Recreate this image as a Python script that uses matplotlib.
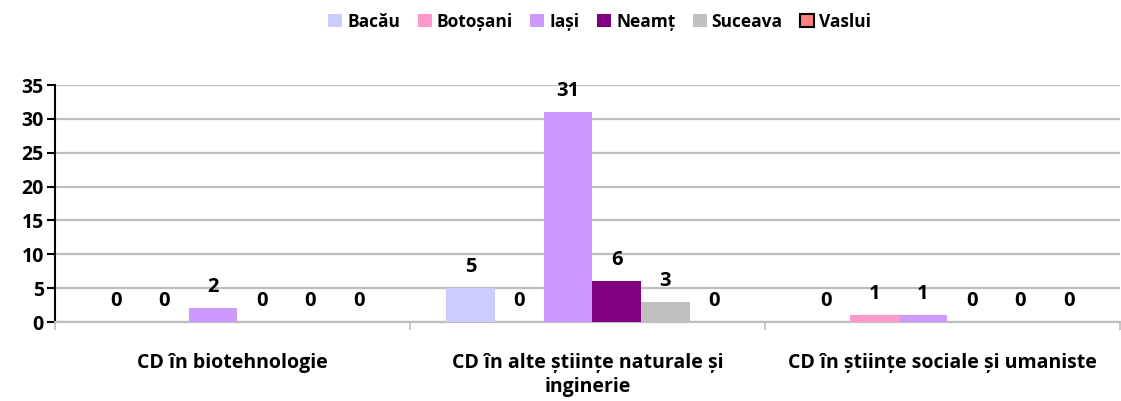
import matplotlib.pyplot as plt
import numpy as np
from matplotlib.patches import Patch

plt.rcParams["font.family"] = ["Open Sans", "DejaVu Sans"]
plt.rcParams["font.weight"] = "bold"

# Data
categories = ["CD în biotehnologie",
              "CD în alte științe naturale și\ninginerie",
              "CD în științe sociale și umaniste"]
counties = ["Bacău", "Botoșani", "Iași", "Neamț", "Suceava", "Vaslui"]
bacau = [0, 5, 0]
botosani = [0, 0, 1]
iasi = [2, 31, 1]
neamt = [0, 6, 0]
suceava = [0, 3, 0]
vaslui = [0, 0, 0]

series = [bacau, botosani, iasi, neamt, suceava, vaslui]
colors = ["#CCCCFF", "#FF99CC", "#CC99FF", "#800080", "#C0C0C0", "#FF8080"]

fig = plt.figure(figsize=(11.21, 4.01), dpi=100)
ax = fig.add_axes([0.049, 0.197, 0.95, 0.591])

x = np.arange(len(categories))
width = 0.137
for i, (vals, col) in enumerate(zip(series, colors)):
    pos = x + (i - 2.5) * width + 0.014
    ax.bar(pos, vals, width, color=col, zorder=3)
    for px, v in zip(pos, vals):
        ax.annotate(str(v), (px, v), textcoords="offset points", xytext=(0, 8),
                    ha="center", va="bottom", fontsize=14.5, fontweight="bold")

ax.set_ylim(0, 35)
ax.set_xlim(-0.5, 2.5)
ax.set_yticks(range(0, 36, 5))
ax.yaxis.grid(True, color="#BFBFBF", linewidth=1.6, zorder=0)
ax.set_axisbelow(True)

ax.set_xticks(x)
ax.set_xticklabels(categories, fontsize=14, fontweight="bold", linespacing=1.3)
ax.tick_params(axis="x", length=0, pad=22)
ax.set_xticks([-0.5, 0.5, 1.5, 2.5], minor=True)
ax.tick_params(axis="x", which="minor", length=6, color="#BFBFBF", width=1.2)
ax.tick_params(axis="y", length=6, width=1.5, color="black", labelsize=14, pad=2)
for lbl in ax.get_yticklabels():
    lbl.set_fontweight("bold")

for s in ["top", "right"]:
    ax.spines[s].set_visible(False)
ax.spines["left"].set_color("black")
ax.spines["left"].set_linewidth(1.5)
ax.spines["bottom"].set_color("#BFBFBF")
ax.spines["bottom"].set_linewidth(1.6)

handles = [Patch(facecolor=c, edgecolor="black" if n == "Vaslui" else c,
                 linewidth=1.5 if n == "Vaslui" else 0)
           for n, c in zip(counties, colors)]
fig.legend(handles, counties, loc="center", bbox_to_anchor=(0.535, 0.946), ncol=6,
           frameon=False, handlelength=0.8, handleheight=0.8,
           handletextpad=0.3, columnspacing=1.0, prop={"weight": "bold", "size": 12.5})

fig.savefig("out.png", dpi=100)
